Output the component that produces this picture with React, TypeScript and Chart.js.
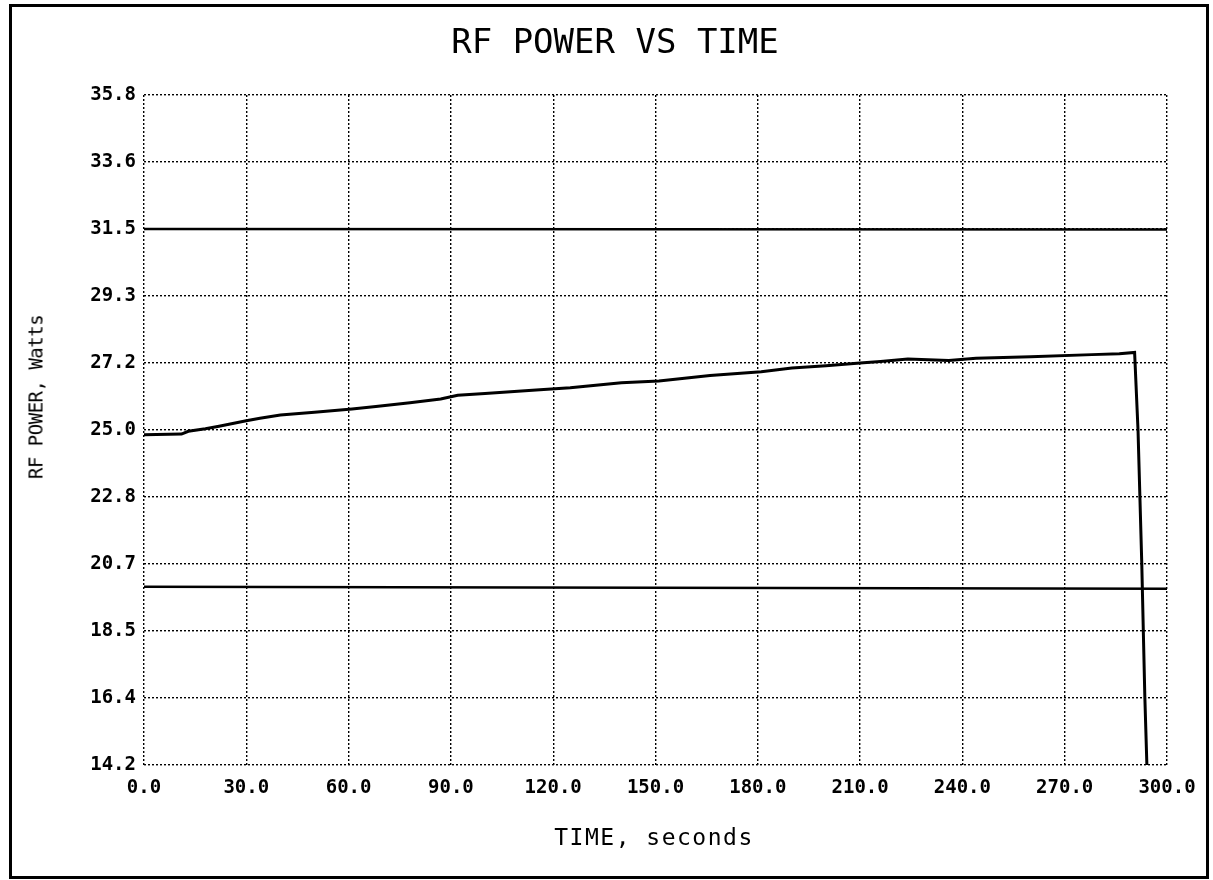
import React, { useEffect, useRef } from "react";
import { Chart, registerables } from "chart.js";

Chart.register(...registerables);

const chartTitle = "RF POWER VS TIME";
const xAxisTitle = "TIME, seconds";
const yAxisTitle = "RF POWER, Watts";

const xTickValues = [0, 30, 60, 90, 120, 150, 180, 210, 240, 270, 300];
const xTickLabels = ["0.0", "30.0", "60.0", "90.0", "120.0", "150.0", "180.0", "210.0", "240.0", "270.0", "300.0"];
const yTickValues = [14.2, 16.36, 18.52, 20.68, 22.84, 25.0, 27.16, 29.32, 31.48, 33.64, 35.8];
const yTickLabels = ["14.2", "16.4", "18.5", "20.7", "22.8", "25.0", "27.2", "29.3", "31.5", "33.6", "35.8"];

const powerTime = [0, 11, 13, 18, 22, 30, 34, 40, 50, 61, 68, 78, 87, 92, 100, 115, 125, 140, 151, 166, 181, 190, 200, 210, 216, 224, 236, 244, 260, 278, 286, 290.5, 291.5, 292.6, 293.5, 294.1];
const powerWatts = [24.85, 24.87, 24.96, 25.04, 25.12, 25.3, 25.38, 25.48, 25.57, 25.68, 25.76, 25.88, 26.0, 26.12, 26.18, 26.29, 26.36, 26.52, 26.58, 26.76, 26.88, 27.0, 27.07, 27.16, 27.21, 27.29, 27.24, 27.31, 27.36, 27.43, 27.46, 27.5, 25.0, 20.7, 16.4, 14.2];

const limitTime = [0, 300];
const upperLimit = [31.48, 31.46];
const lowerLimit = [19.95, 19.88];

const toPoints = (xs: number[], ys: number[]) => xs.map((x, i) => ({ x, y: ys[i] }));

export default function App() {
  const canvasRef = useRef<HTMLCanvasElement | null>(null);

  useEffect(() => {
    if (!canvasRef.current) return;
    const chart = new Chart(canvasRef.current, {
      type: "line",
      data: {
        datasets: [
          {
            data: toPoints(limitTime, upperLimit),
            borderColor: "#000",
            borderWidth: 2.5,
            pointRadius: 0,
            fill: false,
          },
          {
            data: toPoints(limitTime, lowerLimit),
            borderColor: "#000",
            borderWidth: 2.5,
            pointRadius: 0,
            fill: false,
          },
          {
            data: toPoints(powerTime, powerWatts),
            borderColor: "#000",
            borderWidth: 3,
            pointRadius: 0,
            fill: false,
          },
        ],
      },
      options: {
        animation: false,
        responsive: false,
        devicePixelRatio: 1,
        layout: { padding: { left: 0, right: 46, top: 95, bottom: 0 } },
        plugins: {
          legend: { display: false },
          title: { display: false },
          tooltip: { enabled: false },
        },
        scales: {
          x: {
            type: "linear",
            min: 0,
            max: 300,
            afterBuildTicks: (scale: any) => {
              scale.ticks = xTickValues.map((v) => ({ value: v }));
            },
            afterFit: (scale: any) => {
              scale.height = 115;
            },
            ticks: {
              autoSkip: false,
              maxRotation: 0,
              padding: 12,
              color: "#000",
              font: { family: "DejaVu Sans Mono", size: 19, weight: "bold" },
              callback: (_v: any, i: number) => xTickLabels[i],
            },
            grid: { color: "#000", lineWidth: 1.4, drawTicks: false },
            border: { display: false, dash: [2, 2] },
          },
          y: {
            type: "linear",
            min: 14.2,
            max: 35.8,
            afterBuildTicks: (scale: any) => {
              scale.ticks = yTickValues.map((v) => ({ value: v }));
            },
            afterFit: (scale: any) => {
              scale.width = 144;
            },
            ticks: {
              autoSkip: false,
              padding: 8,
              color: "#000",
              font: { family: "DejaVu Sans Mono", size: 19, weight: "bold" },
              callback: (_v: any, i: number) => yTickLabels[i],
            },
            grid: { color: "#000", lineWidth: 1.4, drawTicks: false },
            border: { display: false, dash: [2, 2] },
          },
        },
      },
    });
    return () => chart.destroy();
  }, []);

  const textBase: React.CSSProperties = {
    position: "absolute",
    whiteSpace: "nowrap",
    color: "#000",
    fontFamily: "'DejaVu Sans Mono', monospace",
    lineHeight: 1,
    transform: "translate(-50%, -50%)",
  };

  return (
    <div style={{ position: "absolute", left: 0, top: 0, width: 1213, height: 880, background: "#fff" }}>
      <div
        style={{
          position: "absolute",
          left: 9,
          top: 4,
          width: 1200,
          height: 875,
          border: "3px solid #000",
          boxSizing: "border-box",
        }}
      />
      <canvas
        ref={canvasRef}
        width={1213}
        height={880}
        style={{ position: "absolute", left: 0, top: 0, width: 1213, height: 880 }}
      />
      <div style={{ ...textBase, left: 615, top: 41, fontSize: 34 }}>{chartTitle}</div>
      <div style={{ ...textBase, left: 654, top: 837, fontSize: 23, letterSpacing: "1.5px" }}>{xAxisTitle}</div>
      <div
        style={{
          ...textBase,
          left: 36,
          top: 397,
          fontSize: 19,
          letterSpacing: "-0.5px",
          transform: "translate(-50%, -50%) rotate(-90deg)",
        }}
      >
        {yAxisTitle}
      </div>
    </div>
  );
}
